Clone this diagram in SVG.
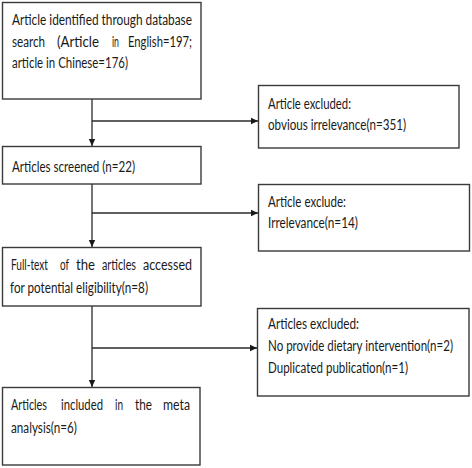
<svg xmlns="http://www.w3.org/2000/svg" width="472" height="468" viewBox="0 0 472 468">
<style>
.box{fill:#fff;stroke:#3a3a3a;stroke-width:1.4}
.t{font-family:Lato,"Open Sans","Liberation Sans",sans-serif;font-size:14.5px;fill:#1a1a1a}
.c{stroke:#2a2a2a;stroke-width:1.3;fill:none}
</style>
<defs>
<marker id="ah" markerWidth="8" markerHeight="8" refX="7" refY="4" orient="auto" markerUnits="userSpaceOnUse">
<path d="M0,0.8 L7,4 L0,7.2 Z" fill="#1a1a1a"/>
</marker>
</defs>
<rect width="472" height="468" fill="#fff"/>
<g id="connectors">
<line class="c" x1="92" y1="99" x2="92" y2="146" marker-end="url(#ah)"/>
<line class="c" x1="92" y1="121" x2="258" y2="121" marker-end="url(#ah)"/>
<line class="c" x1="92" y1="184" x2="92" y2="247" marker-end="url(#ah)"/>
<line class="c" x1="92" y1="213" x2="258" y2="213" marker-end="url(#ah)"/>
<line class="c" x1="92" y1="306" x2="92" y2="387" marker-end="url(#ah)"/>
<line class="c" x1="92" y1="348" x2="257" y2="348" marker-end="url(#ah)"/>
</g>
<g id="identified">
<rect class="box" x="2.5" y="2.5" width="198.5" height="96.5"/>
<text class="t" x="12" y="25" textLength="180" lengthAdjust="spacingAndGlyphs">Article identified through database</text>
<text class="t" x="12" y="47" textLength="33" lengthAdjust="spacingAndGlyphs">search</text>
<text class="t" x="57" y="47" textLength="42" lengthAdjust="spacingAndGlyphs">(Article</text>
<text class="t" x="112" y="47" textLength="7" lengthAdjust="spacingAndGlyphs">in</text>
<text class="t" x="128" y="47" textLength="64" lengthAdjust="spacingAndGlyphs">English=197;</text>
<text class="t" x="12" y="68" textLength="116" lengthAdjust="spacingAndGlyphs">article in Chinese=176)</text>
</g>
<g id="excluded1">
<rect class="box" x="258.5" y="85.5" width="200.5" height="62.5"/>
<text class="t" x="268" y="109" textLength="83" lengthAdjust="spacingAndGlyphs">Article excluded:</text>
<text class="t" x="268" y="130" textLength="138" lengthAdjust="spacingAndGlyphs">obvious irrelevance(n=351)</text>
</g>
<g id="screened">
<rect class="box" x="2.5" y="146.5" width="198.5" height="37.5"/>
<text class="t" x="12" y="172" textLength="123" lengthAdjust="spacingAndGlyphs">Articles screened (n=22)</text>
</g>
<g id="excluded2">
<rect class="box" x="258.5" y="184.5" width="211" height="66.5"/>
<text class="t" x="268" y="207" textLength="78" lengthAdjust="spacingAndGlyphs">Article exclude:</text>
<text class="t" x="268" y="228" textLength="90" lengthAdjust="spacingAndGlyphs">Irrelevance(n=14)</text>
</g>
<g id="fulltext">
<rect class="box" x="2.5" y="247.5" width="198.5" height="58.5"/>
<text class="t" x="11" y="270" textLength="37" lengthAdjust="spacingAndGlyphs">Full-text</text>
<text class="t" x="60" y="270" textLength="9" lengthAdjust="spacingAndGlyphs">of</text>
<text class="t" x="76" y="270" textLength="19" lengthAdjust="spacingAndGlyphs">the</text>
<text class="t" x="102" y="270" textLength="34" lengthAdjust="spacingAndGlyphs">articles</text>
<text class="t" x="143" y="270" textLength="49" lengthAdjust="spacingAndGlyphs">accessed</text>
<text class="t" x="10" y="293" textLength="138" lengthAdjust="spacingAndGlyphs">for potential eligibility(n=8)</text>
</g>
<g id="excluded3">
<rect class="box" x="257.5" y="308.5" width="211.5" height="87.5"/>
<text class="t" x="268" y="329" textLength="91" lengthAdjust="spacingAndGlyphs">Articles excluded:</text>
<text class="t" x="268" y="351" textLength="185" lengthAdjust="spacingAndGlyphs">No provide dietary intervention(n=2)</text>
<text class="t" x="268" y="373" textLength="140" lengthAdjust="spacingAndGlyphs">Duplicated publication(n=1)</text>
</g>
<g id="included">
<rect class="box" x="2.5" y="387.5" width="197.5" height="77.5"/>
<text class="t" x="11" y="410" textLength="36" lengthAdjust="spacingAndGlyphs">Articles</text>
<text class="t" x="61" y="410" textLength="42" lengthAdjust="spacingAndGlyphs">included</text>
<text class="t" x="115" y="410" textLength="8" lengthAdjust="spacingAndGlyphs">in</text>
<text class="t" x="135" y="410" textLength="17" lengthAdjust="spacingAndGlyphs">the</text>
<text class="t" x="163" y="410" textLength="27" lengthAdjust="spacingAndGlyphs">meta</text>
<text class="t" x="11" y="433" textLength="66" lengthAdjust="spacingAndGlyphs">analysis(n=6)</text>
</g>
</svg>
